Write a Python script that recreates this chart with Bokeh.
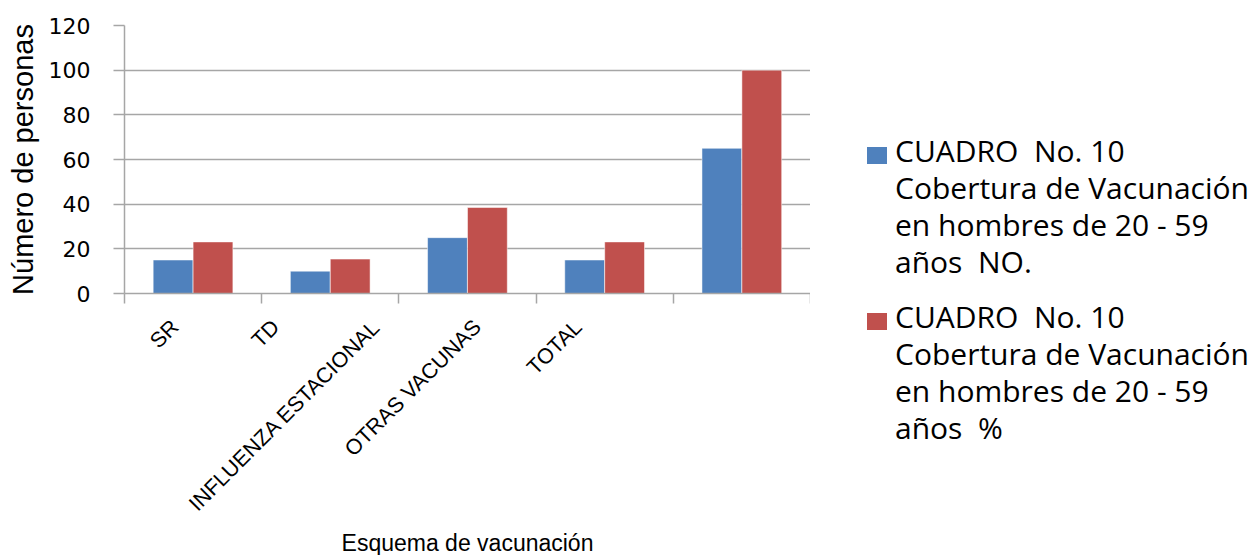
from math import pi
import html
from bokeh.plotting import figure
from bokeh.layouts import row
from bokeh.models import (ColumnDataSource, FactorRange, Range1d, LinearAxis,
                          FixedTicker, Title, Div)
from bokeh.transform import dodge
from bokeh.embed import file_html
from bokeh.resources import INLINE

categories = ["SR", "TD", "INFLUENZA ESTACIONAL", "OTRAS VACUNAS", "TOTAL"]
numero = [15, 10, 25, 15, 65]
porcentaje = [23.1, 15.4, 38.5, 23.1, 100]
series_names = [
    "CUADRO  No. 10\nCobertura de Vacunación\nen hombres de 20 - 59\naños  NO.",
    "CUADRO  No. 10\nCobertura de Vacunación\nen hombres de 20 - 59\naños  %",
]
y_ticks = [0, 20, 40, 60, 80, 100, 120]

BLUE = "#4F81BD"
RED = "#C0504D"
GRID = "#A6A6A6"
series_colors = [BLUE, RED]
LABEL_SPREAD = 0.735   # category labels in the original are laid out over a narrower span

n = len(categories)
boundaries = list(range(n + 1))                       # category borders (synthetic coords)
label_ticks = [(i + 0.5) * LABEL_SPREAD for i in range(n)]

src = ColumnDataSource(dict(cat=categories, numero=numero, porcentaje=porcentaje))

p = figure(width=810, height=555,
           x_range=FactorRange(*categories, range_padding=0),
           y_range=Range1d(0, 120),
           x_axis_location=None,
           output_backend="svg", toolbar_location=None,
           min_border_left=124, min_border_right=0, min_border_top=25, min_border_bottom=252)
p.outline_line_color = None
p.background_fill_color = "white"
p.border_fill_color = "white"

r1 = p.vbar(x=dodge("cat", -0.146, range=p.x_range), top="numero", width=0.29,
            source=src, fill_color=BLUE, line_color="white", line_width=0.5)
r2 = p.vbar(x=dodge("cat", 0.145, range=p.x_range), top="porcentaje", width=0.29,
            source=src, fill_color=RED, line_color="white", line_width=0.5)

# y axis
yax = p.yaxis[0]
yax.ticker = FixedTicker(ticks=y_ticks)
yax.axis_line_color = GRID
yax.axis_line_width = 1.5
yax.major_tick_line_color = GRID
yax.major_tick_line_width = 1.5
yax.major_tick_out = 11
yax.major_tick_in = 0
yax.minor_tick_line_color = None
yax.major_label_text_font = "DejaVu Sans"
yax.major_label_text_font_size = "22px"
yax.major_label_text_color = "#000000"
yax.major_label_standoff = 23
yax.axis_label = "Número de personas"
yax.axis_label_text_font = "Liberation Sans"
yax.axis_label_text_font_size = "29px"
yax.axis_label_text_font_style = "normal"
yax.axis_label_text_color = "#000000"
yax.axis_label_standoff = 7

p.ygrid.grid_line_color = GRID
p.ygrid.grid_line_width = 1.5
p.ygrid.ticker = FixedTicker(ticks=y_ticks)
p.xgrid.grid_line_color = None

# x axis: tick marks at category borders (minor ticks), category names as labels
xax = LinearAxis(ticker=FixedTicker(ticks=label_ticks, minor_ticks=boundaries),
                 major_label_overrides={t: c for t, c in zip(label_ticks, categories)})
xax.axis_line_color = GRID
xax.axis_line_width = 1.5
xax.major_tick_line_color = None
xax.major_tick_out = 10
xax.major_tick_in = 0
xax.minor_tick_line_color = GRID
xax.minor_tick_line_width = 1.5
xax.minor_tick_out = 10
xax.minor_tick_in = 0
xax.major_label_orientation = pi / 4
xax.major_label_text_font = "Liberation Sans"
xax.major_label_text_font_size = "21.5px"
xax.major_label_text_color = "#000000"
xax.major_label_standoff = 20
p.add_layout(xax, "below")

p.add_layout(Title(text="Esquema de vacunación", align="center",
                   text_font="Liberation Sans", text_font_size="23px",
                   text_font_style="normal", text_color="#000000", standoff=0), "below")

# legend beside the chart
LEG_W, LEG_H = 441, 555
SW_X, TX_X = 52, 80
LEG_TOP, LEG_STEP, SW_DY = 127, 166, 15

parts = []
for i, (name, color) in enumerate(zip(series_names, series_colors)):
    top = LEG_TOP + i * LEG_STEP
    parts.append(f'<div style="position:absolute;left:{SW_X}px;top:{top + SW_DY}px;'
                 f'width:20px;height:17px;background:{color};"></div>')
    lines = "<br>".join(html.escape(s) for s in name.split("\n"))
    parts.append(f'<div style="position:absolute;left:{TX_X}px;top:{top}px;white-space:pre;'
                 f"line-height:37px;font-family:'Open Sans';font-size:30px;color:#000000;\">"
                 f'{lines}</div>')
legend_div = Div(width=LEG_W, height=LEG_H,
                 text=f'<div style="position:relative;width:{LEG_W}px;height:{LEG_H}px;'
                      f'background:white;margin:0;padding:0;">{"".join(parts)}</div>')

layout = row(p, legend_div)
open("out.html", "w").write(file_html(layout, INLINE))
